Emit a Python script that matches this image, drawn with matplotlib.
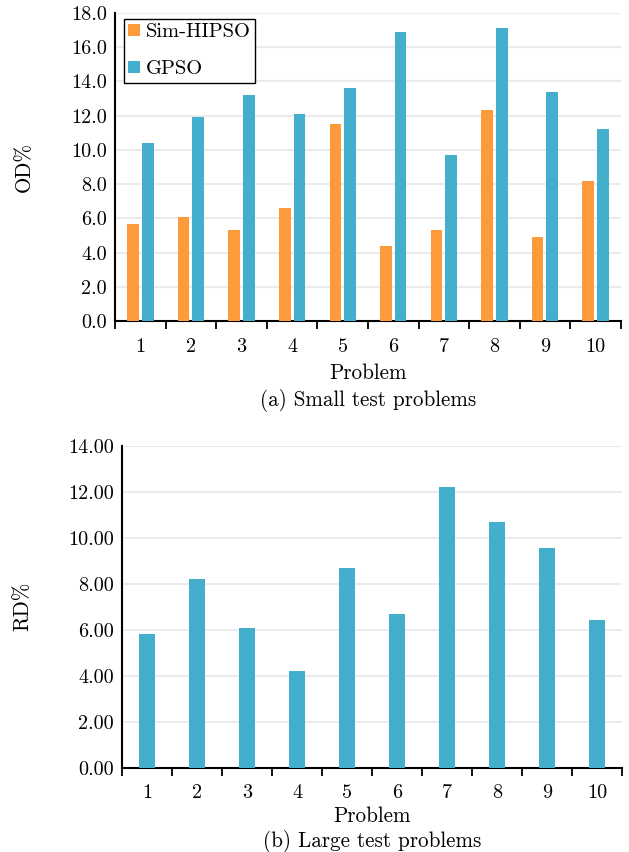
import matplotlib
matplotlib.use("Agg")
import matplotlib.pyplot as plt
import numpy as np
from matplotlib.ticker import FixedLocator, StrMethodFormatter, NullFormatter

plt.rcParams['font.family'] = ['cmr10', 'DejaVu Serif']
plt.rcParams['mathtext.fontset'] = 'cm'
plt.rcParams['axes.unicode_minus'] = False

problems = ['1', '2', '3', '4', '5', '6', '7', '8', '9', '10']
sim_hipso_small = [5.7, 6.1, 5.3, 6.6, 11.5, 4.4, 5.3, 12.3, 4.9, 8.2]
gpso_small = [10.4, 11.9, 13.2, 12.1, 13.6, 16.9, 9.7, 17.1, 13.4, 11.2]
gpso_large = [5.8, 8.2, 6.05, 4.2, 8.7, 6.7, 12.2, 10.7, 9.55, 6.4]

orange = '#FD9A3B'
blue = '#43AFCD'
grid_c = '#EBEBEB'

TICK = 14.5
LAB = 15.2

fig = plt.figure(figsize=(6.29, 8.52), dpi=100)
ax1 = fig.add_axes([0.183, 0.623, 0.804, 0.362])
ax2 = fig.add_axes([0.194, 0.099, 0.795, 0.378])

x = np.arange(len(problems))


def style(ax, ymax, fmt):
    ax.set_xlim(-0.5, len(problems) - 0.5)
    ax.set_ylim(0, ymax)
    ax.set_yticks(np.arange(0, ymax + 0.01, 2))
    ax.yaxis.set_major_formatter(StrMethodFormatter(fmt))
    ax.set_xticks(x)
    ax.set_xticklabels(problems)
    ax.xaxis.set_minor_locator(FixedLocator(np.arange(-0.5, len(problems), 1)))
    ax.xaxis.set_minor_formatter(NullFormatter())
    ax.tick_params(axis='x', which='major', length=0, labelsize=TICK, pad=12)
    ax.tick_params(axis='x', which='minor', length=6, width=1.3, direction='out', color='black')
    ax.tick_params(axis='y', length=0, labelsize=TICK, pad=6)
    ax.grid(axis='y', color=grid_c, linewidth=1.5)
    ax.set_axisbelow(True)
    for s in ['top', 'right']:
        ax.spines[s].set_visible(False)
    for s in ['left', 'bottom']:
        ax.spines[s].set_linewidth(1.5)
        ax.spines[s].set_color('black')


w = 0.23
ax1.bar(x - 0.145, sim_hipso_small, width=w, color=orange, label='Sim-HIPSO', zorder=3)
ax1.bar(x + 0.145, gpso_small, width=w, color=blue, label='GPSO', zorder=3)
style(ax1, 18, '{x:.1f}')
ax1.set_ylabel('OD%', fontsize=LAB)
ax1.yaxis.set_label_coords(-0.16, 0.5)
ax1.text(0.5, -0.168, 'Problem', transform=ax1.transAxes,
         ha='center', va='center', fontsize=LAB)
ax1.text(0.5, -0.257, '(a) Small test problems', transform=ax1.transAxes,
         ha='center', va='center', fontsize=LAB)
leg = ax1.legend(loc='upper left', bbox_to_anchor=(0.018, 0.98), fontsize=14.8,
                 frameon=True, fancybox=False, edgecolor='black', framealpha=1,
                 handlelength=0.55, handleheight=0.55, handletextpad=0.3,
                 labelspacing=0.95, borderpad=0.2, borderaxespad=0)
leg.get_frame().set_linewidth(1.0)

ax2.bar(x, gpso_large, width=0.32, color=blue, zorder=3)
style(ax2, 14, '{x:.2f}')
ax2.set_ylabel('RD%', fontsize=LAB)
ax2.yaxis.set_label_coords(-0.18, 0.5)
ax2.text(0.5, -0.15, 'Problem', transform=ax2.transAxes,
         ha='center', va='center', fontsize=LAB)
ax2.text(0.5, -0.228, '(b) Large test problems', transform=ax2.transAxes,
         ha='center', va='center', fontsize=LAB)

fig.savefig('out.png', dpi=100)
